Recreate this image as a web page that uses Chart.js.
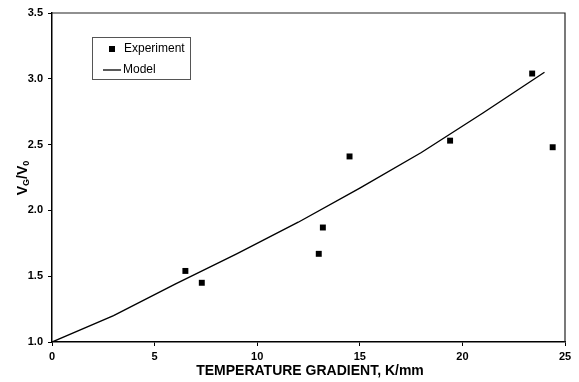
<!DOCTYPE html>
<html>
<head>
<meta charset="utf-8">
<script src="https://cdn.jsdelivr.net/npm/chart.js@4"></script>
<style>
  body { margin: 0; background: #fff; }
  canvas { display: block; }
</style>
</head>
<body>
<canvas id="gradChart" width="579" height="382"></canvas>
<script>
  // values
  const expX = [6.5, 7.3, 13.0, 13.2, 14.5, 19.4, 23.4, 24.4];
  const expY = [1.54, 1.45, 1.67, 1.87, 2.41, 2.53, 3.04, 2.48];
  const modelX = [0, 3, 6, 9, 12, 15, 18, 21, 24];
  const modelY = [1.0, 1.2, 1.44, 1.67, 1.91, 2.17, 2.44, 2.74, 3.05];
  const xTicks = [0, 5, 10, 15, 20, 25];
  const yTicks = [1.0, 1.5, 2.0, 2.5, 3.0, 3.5];

  const FONT = "'Liberation Sans', Arial, sans-serif";

  // frame, legend box and axis titles
  const extras = {
    id: 'extras',
    afterDraw(chart) {
      const c = chart.ctx;
      const a = chart.chartArea;
      c.save();
      // top + right border of plot
      c.strokeStyle = '#222';
      c.lineWidth = 1.2;
      c.beginPath();
      c.moveTo(a.left, a.top);
      c.lineTo(a.right, a.top);
      c.lineTo(a.right, a.bottom);
      c.stroke();

      // legend
      c.strokeStyle = '#555';
      c.lineWidth = 1;
      c.strokeRect(92.5, 37.5, 98, 42);
      c.fillStyle = '#000';
      c.fillRect(109, 46, 6, 6);
      c.strokeStyle = '#000';
      c.lineWidth = 1.3;
      c.beginPath();
      c.moveTo(103, 70);
      c.lineTo(121, 70);
      c.stroke();
      c.font = '12px ' + FONT;
      c.textBaseline = 'middle';
      c.textAlign = 'left';
      c.fillText(chart.data.datasets[0].label, 124, 49);
      c.fillText(chart.data.datasets[1].label, 123, 70);

      // x title
      c.font = 'bold 14px ' + FONT;
      c.textAlign = 'center';
      c.fillText('TEMPERATURE GRADIENT, K/mm', 310, 371);

      // y title with subscripts
      c.translate(23, 178);
      c.rotate(-Math.PI / 2);
      const big = 'bold 14px ' + FONT;
      const small = 'bold 9px ' + FONT;
      const parts = [['V', big, 0], ['G', small, 4], ['/V', big, 0], ['0', small, 4]];
      let w = 0;
      parts.forEach(p => { c.font = p[1]; w += c.measureText(p[0]).width; });
      let x = -w / 2;
      c.textAlign = 'left';
      parts.forEach(p => {
        c.font = p[1];
        c.fillText(p[0], x, p[2]);
        x += c.measureText(p[0]).width;
      });
      c.restore();
    }
  };

  const ctx = document.getElementById('gradChart').getContext('2d');
  new Chart(ctx, {
    type: 'scatter',
    data: {
      datasets: [{
        label: 'Experiment',
        data: expX.map((x, i) => ({ x: x, y: expY[i] })),
        pointStyle: 'rect',
        pointRadius: 4.2,
        backgroundColor: '#000',
        borderColor: '#000',
        borderWidth: 0
      }, {
        label: 'Model',
        type: 'line',
        data: modelX.map((x, i) => ({ x: x, y: modelY[i] })),
        borderColor: '#000',
        borderWidth: 1.4,
        pointRadius: 0,
        fill: false,
        tension: 0
      }]
    },
    options: {
      responsive: false,
      animation: false,
      layout: { padding: { top: 13, right: 14, left: 0, bottom: 0 } },
      plugins: {
        legend: { display: false },
        tooltip: { enabled: false }
      },
      scales: {
        x: {
          type: 'linear',
          min: 0,
          max: 25,
          afterFit(s) { s.height = 40; },
          afterBuildTicks(s) { s.ticks = xTicks.map(v => ({ value: v })); },
          border: { color: '#000', width: 1.5 },
          grid: { drawOnChartArea: false, color: '#000', tickLength: 4, lineWidth: 1 },
          ticks: {
            color: '#000',
            padding: 4,
            maxRotation: 0,
            font: { family: FONT, size: 11, weight: 'bold' }
          }
        },
        y: {
          type: 'linear',
          min: 1,
          max: 3.5,
          afterFit(s) { s.width = 52; },
          afterBuildTicks(s) { s.ticks = yTicks.map(v => ({ value: v })); },
          border: { color: '#000', width: 1.5 },
          grid: { drawOnChartArea: false, color: '#000', tickLength: 4, lineWidth: 1 },
          ticks: {
            color: '#000',
            padding: 5,
            font: { family: FONT, size: 11, weight: 'bold' },
            callback: v => Number(v).toFixed(1)
          }
        }
      }
    },
    plugins: [extras]
  });
</script>
</body>
</html>
